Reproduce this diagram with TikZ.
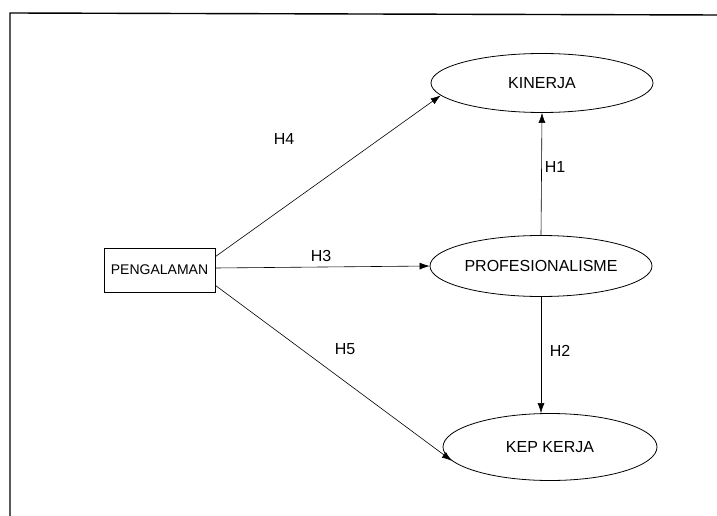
\documentclass[tikz,border=0pt]{standalone}
\usepackage{fontspec}
\setmainfont{Liberation Sans}
\usetikzlibrary{shapes.geometric,arrows.meta}
\tikzset{
  var/.style={draw,thick,ellipse,inner sep=0pt,font=\fontsize{16}{18}\selectfont},
  kotak/.style={draw,thick,rectangle,inner sep=0pt,font=\fontsize{14}{16}\selectfont},
  panah/.style={-{Latex[length=10pt,width=7pt]},semithick},
  hlabel/.style={font=\fontsize{16}{18}\selectfont}
}
\begin{document}
\begin{tikzpicture}[x=1pt,y=-1pt]
    \useasboundingbox (0,0) rectangle (717,516);
    % bingkai
    \draw[line width=1.4pt] (10,520) -- (10,13) -- (720,15);
    % variabel
    \node[kotak,minimum width=111pt,minimum height=44pt] (peng) at (159.5,270) {PENGALAMAN};
    \node[var,minimum width=222pt,minimum height=59pt] (kin) at (542,83) {KINERJA};
    \node[var,minimum width=222pt,minimum height=61pt] (prof) at (541,266) {PROFESIONALISME};
    \node[var,minimum width=214pt,minimum height=67pt] (kep) at (550,447) {KEP KERJA};
    % hipotesis
    \draw[panah] (peng.north east) ++(0,9) coordinate (p4) (p4) -- (kin.-173);
    \draw[panah] (peng.east) ++(0,-2) coordinate (p3) (p3) -- (prof.west);
    \draw[panah] (peng.south east) ++(0,-7) coordinate (p5) (p5) -- (kep.-172);
    \draw[panah] (prof.north) -- (kin.south);
    \draw[panah] (prof.south) -- (prof.south |- kep.north);
    % label
    \node[hlabel] (h4) at (284,139) {H4};
    \node[hlabel] (h3) at (321,256) {H3};
    \node[hlabel] (h5) at (345,349) {H5};
    \node[hlabel] (h1) at (555,167) {H1};
    \node[hlabel] (h2) at (560,351) {H2};
  \end{tikzpicture}
\end{document}
